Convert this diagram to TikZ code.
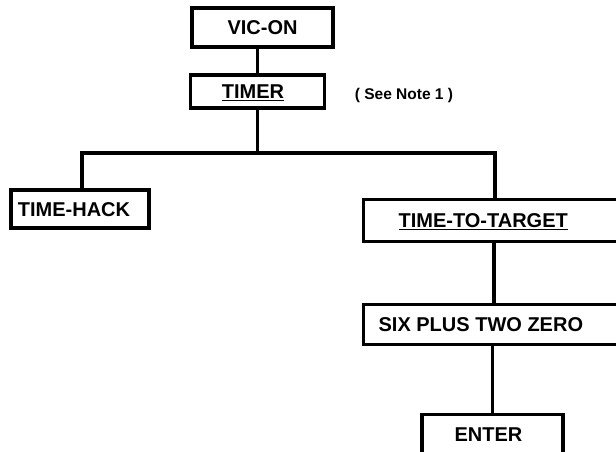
\documentclass[tikz,border=0pt]{standalone}
\usepackage{fontspec}
\setmainfont{Liberation Sans}
\tikzset{
  box/.style={draw, line width=3.2pt, inner sep=0pt, font=\bfseries\fontsize{20}{22}\selectfont, text height=14pt, text depth=0pt},
  wire/.style={line width=3.4pt},
}
\newcommand{\ul}[1]{\underline{#1}}
\begin{document}
\begin{tikzpicture}[x=1pt,y=-1pt]
\useasboundingbox (0,0) rectangle (616,451);
\clip (0,0) rectangle (616,451);
\fill[white] (0,0) rectangle (616,451);
\node[box, minimum width=141pt, minimum height=39pt] (vic) at (262.5,27.5) {VIC-ON};
\node[box, minimum width=134pt, minimum height=33pt] (timer) at (257.5,91.5) {\hspace*{-9pt}\ul{TIMER}};
\node[font=\bfseries\fontsize{15.5}{18}\selectfont, inner sep=0pt] (note) at (404,95) {( See Note 1 )};
\node[box, minimum width=138pt, minimum height=38pt] (hack) at (80,209) {\hspace*{-12pt}TIME-HACK};
\node[box, minimum height=42pt, anchor=north west] (ttt) at (362,198) {\hbox to 290pt{\hspace*{35pt}\ul{TIME-TO-TARGET}\hfil}};
\node[box, minimum height=40pt, anchor=north west] (six) at (362,303) {\hbox to 290pt{\hspace*{15pt}SIX PLUS TWO ZERO\hfil}};
\node[box, minimum width=141pt, minimum height=44pt, anchor=north] (enter) at (492.5,413) {\raisebox{2pt}{\hspace*{-8pt}ENTER}};
\coordinate (j) at (257.5,153);
\draw[wire] (timer.north) -- (timer.north |- vic.south);
\draw[wire] (timer.south) -- (j);
\draw[wire] ([xshift=2pt]hack.north) |- (j) -| ([xshift=133pt]ttt.north west);
\draw[wire] ([xshift=132pt]ttt.south west) -- ([xshift=132pt]six.north west);
\draw[wire] (enter.north) -- (enter.north |- six.south);
\end{tikzpicture}
\end{document}
